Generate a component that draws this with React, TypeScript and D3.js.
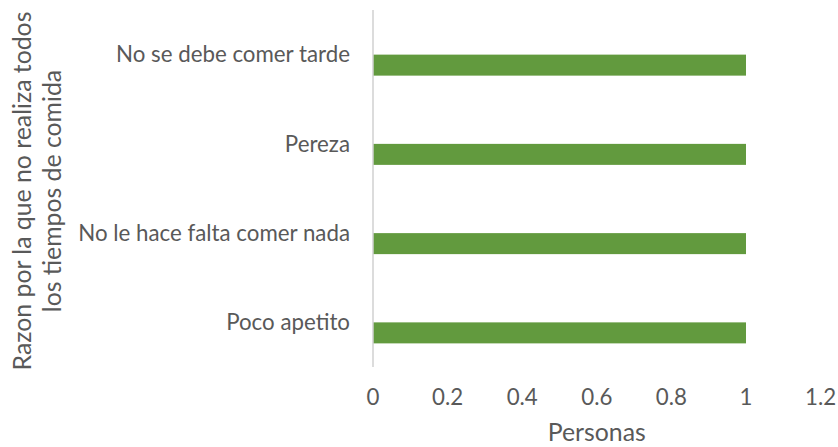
import { useEffect, useRef } from 'react'
import * as d3 from 'd3'

// categories top to bottom, as shown
const categories = [
  'No se debe comer tarde',
  'Pereza',
  'No le hace falta comer nada',
  'Poco apetito',
]
const personas = [1, 1, 1, 1]
const xTicks = [0, 0.2, 0.4, 0.6, 0.8, 1, 1.2]
// the chart has an unused second series slot, so bars sit below the category centre
const seriesSlots = ['vacia', 'Personas']

const yTitleLines = ['Razon por la que no realiza todos', 'los tiempos de comida']
const xTitle = 'Personas'

const App = () => {
  const ref = useRef<SVGSVGElement>(null)

  useEffect(() => {
    const width = 838
    const height = 447
    const margin = { top: 10, right: 18, bottom: 80, left: 373 }
    const font = 'Lato, "Open Sans", sans-serif'
    const textColor = '#595959'
    const tickSize = 22.3
    const titleSize = 24.8

    const svg = d3.select(ref.current)
    svg.selectAll('*').remove()

    const x = d3.scaleLinear()
      .domain([0, 1.2])
      .range([margin.left, margin.left + 447.6])

    const y = d3.scaleBand()
      .domain(categories)
      .range([margin.top, height - margin.bottom])
      .padding(0)

    const sub = d3.scaleBand()
      .domain(seriesSlots)
      .range([0, y.bandwidth()])
      .paddingInner(0)
      .paddingOuter(1.125)

    // bars
    svg.append('g')
      .selectAll('rect')
      .data(categories.map((c, i) => ({ c, v: personas[i] })))
      .enter().append('rect')
      .attr('x', x(0))
      .attr('y', d => (y(d.c) ?? 0) + (sub('Personas') ?? 0))
      .attr('width', d => x(d.v) - x(0))
      .attr('height', sub.bandwidth())
      .attr('fill', '#629a3e')

    // vertical axis line
    svg.append('line')
      .attr('x1', x(0)).attr('x2', x(0))
      .attr('y1', margin.top).attr('y2', height - margin.bottom)
      .attr('stroke', '#d0d0d0')
      .attr('stroke-width', 1.5)

    // category labels
    svg.append('g')
      .selectAll('text')
      .data(categories)
      .enter().append('text')
      .attr('x', x(0) - 23)
      .attr('y', d => (y(d) ?? 0) + y.bandwidth() / 2)
      .attr('dy', '0.35em')
      .attr('text-anchor', 'end')
      .attr('font-family', font)
      .attr('font-size', tickSize)
      .attr('fill', textColor)
      .text(d => d)

    // x tick labels
    svg.append('g')
      .selectAll('text')
      .data(xTicks)
      .enter().append('text')
      .attr('x', d => x(d))
      .attr('y', 397)
      .attr('dy', '0.35em')
      .attr('text-anchor', 'middle')
      .attr('font-family', font)
      .attr('font-size', tickSize)
      .attr('fill', textColor)
      .text(d => String(d))

    // x title
    svg.append('text')
      .attr('x', (x(0) + x(1.2)) / 2)
      .attr('y', 432)
      .attr('dy', '0.35em')
      .attr('text-anchor', 'middle')
      .attr('font-family', font)
      .attr('font-size', titleSize)
      .attr('fill', textColor)
      .text(xTitle)

    // y title, two rotated lines
    svg.append('g')
      .selectAll('text')
      .data(yTitleLines)
      .enter().append('text')
      .attr('transform', (d, i) => `translate(${22 + i * 30},191) rotate(-90)`)
      .attr('dy', '0.35em')
      .attr('text-anchor', 'middle')
      .attr('font-family', font)
      .attr('font-size', titleSize)
      .attr('fill', textColor)
      .text(d => d)
  }, [])

  return (
    <svg ref={ref} width={838} height={447}
      style={{ position: 'absolute', left: 0, top: 0, background: '#fff' }} />
  )
}

export default App
